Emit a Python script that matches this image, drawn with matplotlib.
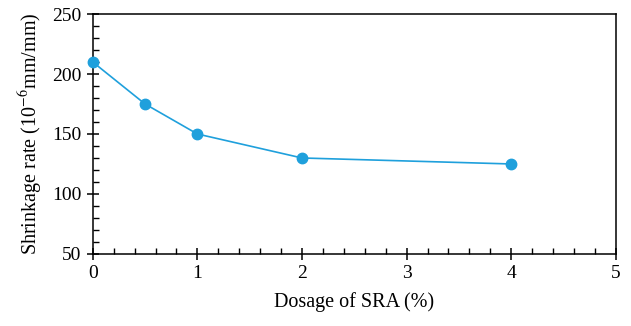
import matplotlib
matplotlib.use("Agg")
import matplotlib.pyplot as plt
from matplotlib.ticker import MultipleLocator

dosage = [0, 0.5, 1, 2, 4]
shrinkage = [210, 175, 150, 130, 125]

plt.rcParams['font.family'] = ['Liberation Serif', 'DejaVu Serif']
plt.rcParams['mathtext.fontset'] = 'stix'

fig = plt.figure(figsize=(6.31, 3.26), dpi=100)
ax = fig.add_axes([0.147, 0.221, 0.829, 0.736])

ax.plot(dosage, shrinkage, color='#1fa0dc', lw=1.2, marker='o', ms=7.5,
        clip_on=False, zorder=3)

ax.set_xlim(0, 5)
ax.set_ylim(50, 250)
ax.xaxis.set_major_locator(MultipleLocator(1))
ax.xaxis.set_minor_locator(MultipleLocator(0.2))
ax.yaxis.set_major_locator(MultipleLocator(50))
ax.yaxis.set_minor_locator(MultipleLocator(10))
ax.tick_params(which='major', direction='inout', length=8, width=1.1,
               labelsize=14, pad=4)
ax.tick_params(which='minor', direction='in', length=4, width=1)
for s in ax.spines.values():
    s.set_linewidth(1.1)

ax.set_xlabel('Dosage of SRA (%)', fontsize=14.5, labelpad=7)
ax.set_ylabel(r'Shrinkage rate (10$^{-6}$mm/mm)', fontsize=14.5, labelpad=5)

fig.savefig('out.png', dpi=100)
